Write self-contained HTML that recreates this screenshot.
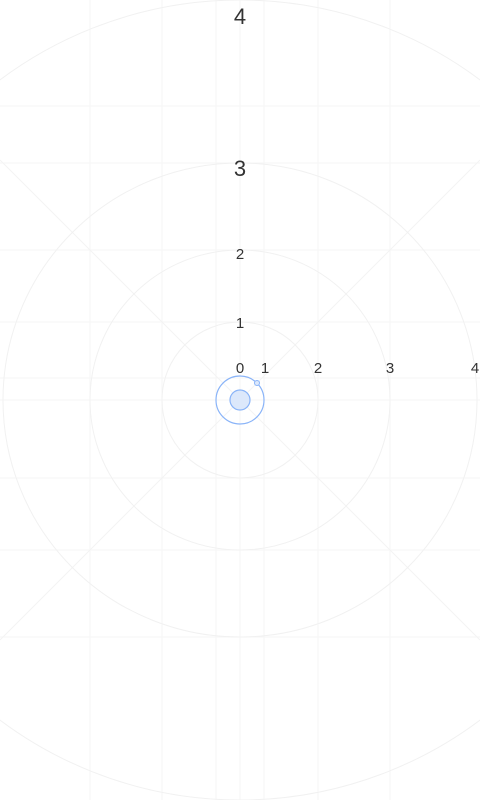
<!DOCTYPE html>
<html><head><meta charset="utf-8"><style>
html,body{margin:0;padding:0;background:#fff;width:480px;height:800px;overflow:hidden}
svg{display:block;overflow:hidden}
text{font-family:"Liberation Sans",sans-serif;font-weight:300;fill:#333}
</style></head><body>
<svg id="chart" width="480" height="800" viewBox="0 0 480 800" xmlns="http://www.w3.org/2000/svg">
<g id="grid"></g>
<g id="labels"></g>
<g id="marks"></g>
</svg>
<script>
const ringValues=[1,2,3,4];
const ringRadii=[78,150,237,400];
const yTickLabels=["0","1","2","3","4"];
const yTickR=[0,78,147,230,382];
const xTickLabels=["0","1","2","3","4"];
const xTickR=[0,25,78,150,235];
const seriesValues=[0];
const cx=240,cy=400;
const NS="http://www.w3.org/2000/svg";
function mk(t,a,p){const e=document.createElementNS(NS,t);for(const k in a)e.setAttribute(k,a[k]);p.appendChild(e);return e;}
const grid=document.getElementById('grid'),labels=document.getElementById('labels'),marks=document.getElementById('marks');
function rScale(v){ if(v<=0) return 0; const i=Math.min(ringValues.length-1,Math.max(0,Math.ceil(v)-1)); const lo=i===0?0:ringRadii[i-1], lov=i===0?0:ringValues[i-1]; return lo+(v-lov)/(ringValues[i]-lov)*(ringRadii[i]-lo);}
[90,162,216,240,264,318,390].forEach(x=>{const l=mk('line',{x1:x,y1:0,x2:x,y2:800,stroke:'#f6f6f6'},grid);
});
[106,163,250,322,378,400,478,550,637].forEach(y=>{const l=mk('line',{x1:0,y1:y,x2:480,y2:y,stroke:'#f6f6f6'},grid);
});
[[-1,-1],[1,-1]].forEach(d=>{const l=mk('line',{x1:cx-d[0]*240,y1:cy-d[1]*240,x2:cx+d[0]*240,y2:cy+d[1]*240,stroke:'#f3f3f3'},grid);
});
ringValues.forEach(v=>{const c=mk('circle',{cx:cx,cy:cy,r:rScale(v),fill:'none',stroke:'#f1f1f1'},grid);
});
yTickLabels.forEach((t,i)=>{if(i===0)return;const e=mk('text',{x:cx,y:cy-yTickR[i]+6,'text-anchor':'middle','font-size':i>=3?22:15},labels);e.textContent=t;
});
xTickLabels.forEach((t,i)=>{const e=mk('text',{x:cx+xTickR[i],y:cy-27,'text-anchor':'middle','font-size':15},labels);e.textContent=t;
});
seriesValues.forEach((v,i)=>{const r=rScale(v);
const h=mk('circle',{cx:cx+r,cy:cy,r:24,fill:'none',stroke:'#8ab4f8','stroke-width':1.2},marks);

const p=mk('circle',{cx:cx+r,cy:cy,r:10,fill:'#dce8fb',stroke:'#8ab4f8','stroke-width':1.2},marks);

const hd=mk('circle',{cx:cx+r+17,cy:cy-17,r:2.5,fill:'#dce8fb',stroke:'#8ab4f8'},marks);
});
</script>
</body></html>
